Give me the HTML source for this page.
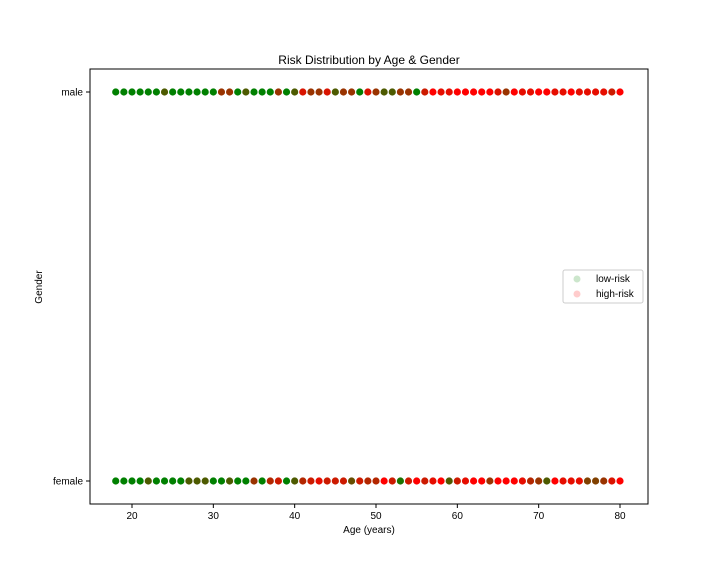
<!DOCTYPE html>
<html><head><meta charset="utf-8"><style>
body{margin:0;background:#fff;font-family:"Liberation Sans",sans-serif}
svg text{font-family:"Liberation Sans",sans-serif}
</style></head><body>
<svg width="720" height="576">
<rect x="0" y="0" width="720" height="576" fill="#fff"/>
<text x="369" y="64" text-anchor="middle" font-size="12">Risk Distribution by Age &amp; Gender</text>
<g id="marks"></g>
<rect x="90" y="69" width="558" height="435" fill="none" stroke="#000" stroke-width="1"/>
<g id="xt"></g>
<g id="yt"></g>
<text x="369" y="533" text-anchor="middle" font-size="10">Age (years)</text>
<text x="42" y="287" text-anchor="middle" font-size="10" transform="rotate(-90 42 287)">Gender</text>
<g>
<rect x="563" y="270" width="80" height="33" rx="2" fill="#fff" stroke="#ccc"/>
<g><circle cx="577" cy="279" r="3.5" fill="rgba(0,128,0,0.2)"/><text x="596" y="282" font-size="10">low-risk</text></g>
<g><circle cx="577" cy="294" r="3.5" fill="rgba(255,0,0,0.2)"/><text x="596" y="297" font-size="10">high-risk</text></g>
</g>
</svg>
<script>
const ages = [];for (let a = 18; a <= 80; a++) ages.push(a);
const genders = ["female", "male"];
const xTicks = [20, 30, 40, 50, 60, 70, 80];
const maleHighShare = [0,0,0,0,0,0,0.3,0,0,0,0,0,0,0.6,0.6,0,0.3,0,0,0,0.6,0,0.3,0.85,0.6,0.6,0.85,0.3,0.6,0.6,0,0.85,
 0.6,0.3,0.3,0.6,0.6,0,0.8,1,0.9,0.9,1,1,1,1,1,0.85,0.6,1,0.9,0.9,1,1,0.9,0.9,1,0.9,0.9,0.9,0.9,0.8,1];
const femaleHighShare = [0,0,0,0,0.3,0,0,0,0,0.3,0.3,0.3,0,0,0.3,0,0,0.6,0,0.7,0.8,0,0.3,0.7,0.8,0.9,0.8,0.8,0.8,0.4,0.8,0.7,
 0.7,1,0.8,0.1,0.8,1,0.8,0.9,1,0.3,0.8,0.9,1,1,0.6,1,1,1,0.9,0.7,0.6,0.3,1,0.9,0.9,0.9,0.5,0.5,0.6,0.85,1];
const NS="http://www.w3.org/2000/svg";
const xs = a => 132 + (a - 20) * (488 / 60);
const ys = g => g === "male" ? 92 : 481;
const col = f => `rgb(${Math.round(255*f)},${Math.round(128*(1-f))},0)`;
const marks=document.getElementById('marks');
function draw(series,g){
  series.forEach((f,i)=>{
    const c=document.createElementNS(NS,'circle');
    c.setAttribute('cx',xs(ages[i]));c.setAttribute('cy',ys(g));c.setAttribute('r',3.6);
    c.setAttribute('fill',col(f));
    
    
    marks.appendChild(c);
  });
}
draw(maleHighShare,"male");draw(femaleHighShare,"female");
const xt=document.getElementById('xt');
xTicks.forEach(t=>{
  const l=document.createElementNS(NS,'line');
  l.setAttribute('x1',xs(t));l.setAttribute('x2',xs(t));l.setAttribute('y1',504);l.setAttribute('y2',508);l.setAttribute('stroke','#000');
  
  
  xt.appendChild(l);
  const tx=document.createElementNS(NS,'text');
  tx.setAttribute('x',xs(t));tx.setAttribute('y',519);tx.setAttribute('text-anchor','middle');tx.setAttribute('font-size','10');
  tx.textContent=t;
  
  
  xt.appendChild(tx);
});
const yt=document.getElementById('yt');
genders.forEach(g=>{
  const l=document.createElementNS(NS,'line');
  l.setAttribute('x1',86);l.setAttribute('x2',90);l.setAttribute('y1',ys(g));l.setAttribute('y2',ys(g));l.setAttribute('stroke','#000');
  
  
  yt.appendChild(l);
  const tx=document.createElementNS(NS,'text');
  tx.setAttribute('x',83);tx.setAttribute('y',ys(g)+3.5);tx.setAttribute('text-anchor','end');tx.setAttribute('font-size','10');
  tx.textContent=g;
  
  
  yt.appendChild(tx);
});
</script>
</body></html>
